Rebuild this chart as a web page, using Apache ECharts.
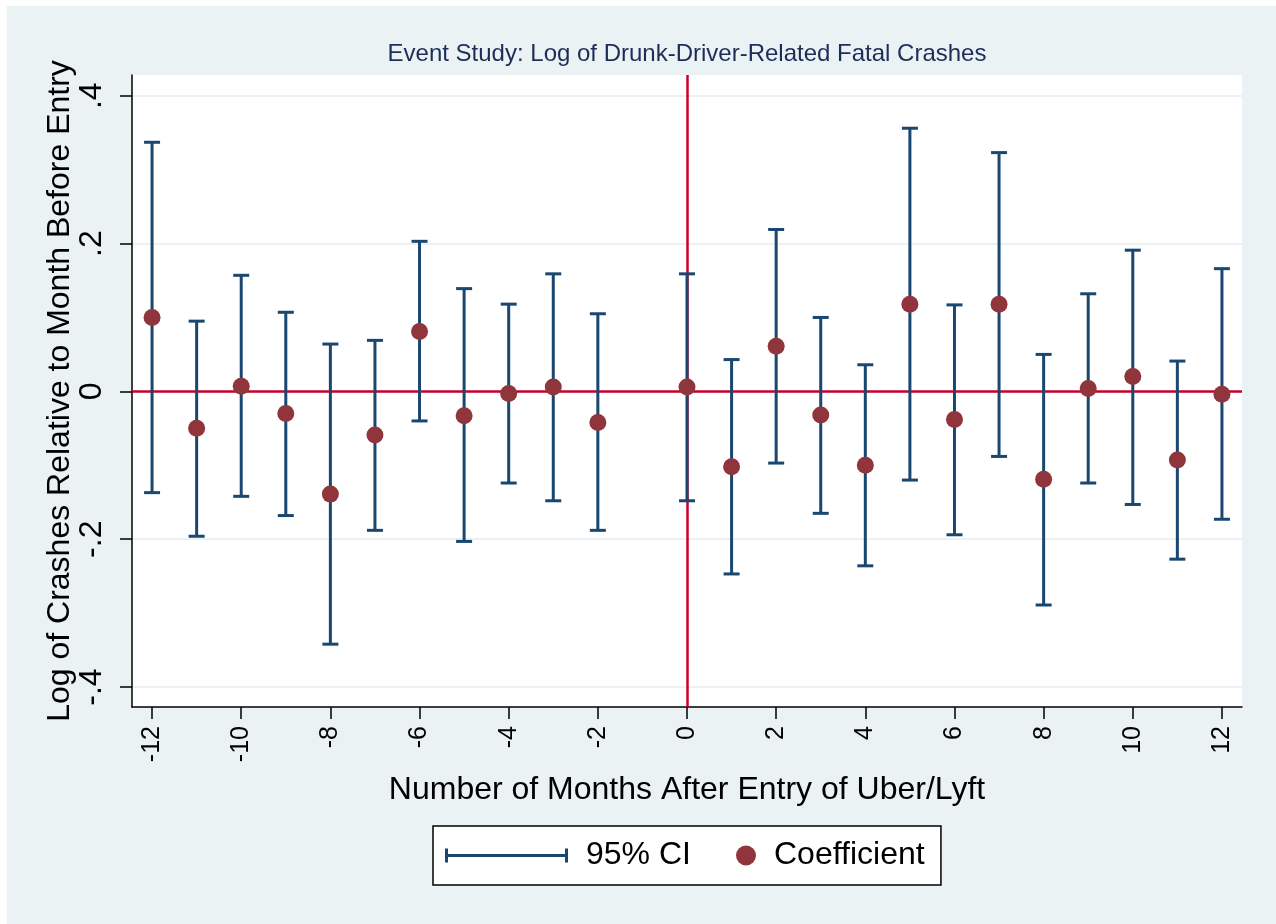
<!DOCTYPE html>
<html><head><meta charset="utf-8">
<script src="https://cdn.jsdelivr.net/npm/echarts@6/dist/echarts.min.js"></script>
<style>html,body{margin:0;padding:0;background:#fff}#c{width:1276px;height:924px}</style>
</head><body><div id="c"></div>
<script>
const months = [-12,-11,-10,-9,-8,-7,-6,-5,-4,-3,-2,0,1,2,3,4,5,6,7,8,9,10,11,12];
const coef = [0.100,-0.050,0.007,-0.030,-0.139,-0.059,0.081,-0.033,-0.003,0.006,-0.042,0.006,-0.102,0.061,-0.032,-0.100,0.118,-0.038,0.118,-0.119,0.004,0.020,-0.093,-0.004];
const ciUpper = [0.337,0.095,0.157,0.107,0.064,0.069,0.203,0.139,0.118,0.159,0.105,0.159,0.043,0.219,0.100,0.036,0.356,0.117,0.323,0.050,0.132,0.191,0.041,0.166];
const ciLower = [-0.137,-0.196,-0.142,-0.168,-0.342,-0.188,-0.040,-0.203,-0.124,-0.148,-0.188,-0.148,-0.247,-0.097,-0.165,-0.236,-0.120,-0.194,-0.088,-0.289,-0.124,-0.153,-0.227,-0.173];
const xTicks = [-12,-10,-8,-6,-4,-2,0,2,4,6,8,10,12];
const yTicks = [-0.4,-0.2,0,0.2,0.4];

const FONT = '"Liberation Sans", Arial, Helvetica, sans-serif';
const NAVY = '#1a476f', MAROON = '#90353b', RED = '#c8002d', BG = '#eaf2f3';
const titleText = 'Event Study: Log of Drunk-Driver-Related Fatal Crashes';

const cv = document.createElement('canvas').getContext('2d');
cv.font = '24px ' + FONT;
const titleW = cv.measureText(titleText).width;

const chart = echarts.init(document.getElementById('c'), null, {renderer: 'canvas'});
const yFmt = v => {
  if (Math.abs(v) < 1e-9) return '0';
  const s = Math.abs(v).toFixed(1).replace(/^0/, '');
  return (v < 0 ? '-' : '') + s;
};
chart.setOption({
  backgroundColor: '#ffffff',
  animation: false,
  graphic: [{type: 'rect', z: -10, silent: true, shape: {x: 7, y: 6, width: 1276, height: 924}, style: {fill: BG}}],
  title: {
    text: titleText, left: 687 - titleW / 2, top: 42, padding: 0,
    textStyle: {fontFamily: FONT, fontSize: 24, fontWeight: 'normal', color: '#1c2d59'}
  },
  grid: {left: 132, right: 34, top: 75, bottom: 217, show: true, backgroundColor: '#ffffff', borderWidth: 0},
  xAxis: {
    type: 'value', min: -12.45, max: 12.45,
    name: 'Number of Months After Entry of Uber/Lyft', nameLocation: 'middle', nameGap: 67,
    nameMoveOverlap: false,
    nameTextStyle: {fontFamily: FONT, fontSize: 32, color: '#000'},
    axisLine: {onZero: false, lineStyle: {color: '#000', width: 1.5}},
    axisTick: {customValues: xTicks, length: 12, lineStyle: {color: '#000', width: 1.5}},
    axisLabel: {customValues: xTicks, rotate: 90, margin: 19, fontFamily: FONT, fontSize: 25, color: '#000'},
    splitLine: {show: false}
  },
  yAxis: {
    type: 'value', min: -0.427, max: 0.428,
    name: 'Log of Crashes Relative to Month Before Entry', nameLocation: 'middle', nameGap: 56, nameRotate: 90,
    nameMoveOverlap: false,
    nameTextStyle: {fontFamily: FONT, fontSize: 32, color: '#000'},
    axisLine: {onZero: false, lineStyle: {color: '#000', width: 1.5}},
    axisTick: {customValues: yTicks, length: 12, lineStyle: {color: '#000', width: 1.5}},
    axisLabel: {customValues: yTicks, rotate: 90, margin: 24, fontFamily: FONT, fontSize: 32, color: '#000', formatter: yFmt},
    splitLine: {show: true, customValues: yTicks, lineStyle: {color: BG, width: 2}}
  },
  legend: [
    {
      data: [{name: '95% CI', icon: 'path://M0,0h3v5.5h117v-5.5h3v14h-3v-5.5h-117v5.5h-3z'}],
      left: 433, top: 826, orient: 'horizontal', itemWidth: 123, itemHeight: 14,
      padding: [13.5, 250, 13.5, 12], backgroundColor: '#fff', borderColor: '#000', borderWidth: 1.5,
      selectedMode: false, z: 4,
      textStyle: {fontFamily: FONT, fontSize: 32, color: '#000', padding: [4, 0, 0, 13]}
    },
    {
      data: [{name: 'Coefficient', icon: 'circle'}],
      left: 736, top: 839.5, itemWidth: 20, itemHeight: 20, padding: 0,
      selectedMode: false, z: 6,
      textStyle: {fontFamily: FONT, fontSize: 32, color: '#000', padding: [4, 0, 0, 13]}
    }
  ],
  series: [
    {
      name: '95% CI', type: 'custom', z: 3,
      itemStyle: {color: NAVY},
      encode: {x: 0, y: [1, 2]},
      data: months.map((m, i) => [m, ciLower[i], ciUpper[i]]),
      renderItem: (params, api) => {
        const x = api.value(0);
        const pLo = api.coord([x, api.value(1)]);
        const pHi = api.coord([x, api.value(2)]);
        const hw = 8;
        const st = {stroke: NAVY, lineWidth: 3, fill: null};
        return {type: 'group', children: [
          {type: 'line', shape: {x1: pLo[0], y1: pLo[1], x2: pHi[0], y2: pHi[1]}, style: st},
          {type: 'line', shape: {x1: pLo[0] - hw, y1: pLo[1], x2: pLo[0] + hw, y2: pLo[1]}, style: st},
          {type: 'line', shape: {x1: pHi[0] - hw, y1: pHi[1], x2: pHi[0] + hw, y2: pHi[1]}, style: st}
        ]};
      },
      markLine: {
        silent: true, symbol: 'none', z: 2, label: {show: false},
        lineStyle: {color: RED, width: 2.5, type: 'solid'},
        data: [{xAxis: 0}, {yAxis: 0}]
      }
    },
    {
      name: 'Coefficient', type: 'scatter', z: 5,
      symbol: 'circle', symbolSize: 17,
      itemStyle: {color: MAROON, opacity: 1},
      data: months.map((m, i) => [m, coef[i]])
    }
  ]
});
</script>
</body></html>
